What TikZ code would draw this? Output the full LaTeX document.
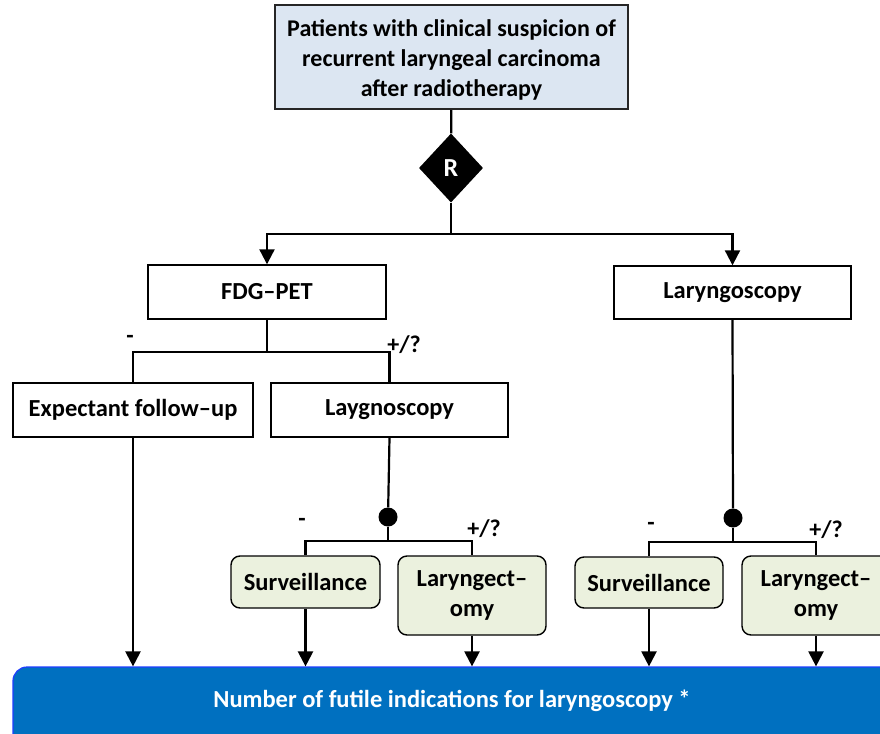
\documentclass[tikz,border=0pt]{standalone}
\usepackage{fontspec}
\setmainfont{Carlito}
\usetikzlibrary{shapes.geometric,arrows.meta}
\definecolor{headfill}{HTML}{DCE6F2}
\definecolor{greenfill}{HTML}{EBF1DE}
\definecolor{resultfill}{HTML}{0070C0}
\definecolor{resultedge}{HTML}{1F3CFF}
\begin{document}
\begin{tikzpicture}[x=1pt,y=-1pt,
  font=\bfseries\fontsize{24.5}{30}\selectfont,
  plainbox/.style={draw=black, line width=1.4pt, fill=white, inner sep=0pt, align=center},
  headbox/.style={draw=black!85, line width=2pt, fill=headfill, inner sep=0pt,
    font=\bfseries\fontsize{24}{30}\selectfont},
  choicebox/.style={draw=black, line width=1.4pt, fill=greenfill, rounded corners=9pt, inner sep=0pt, align=center},
  link/.style={line width=2.2pt},
  arr/.style={line width=2.2pt, -{Triangle[width=15pt,length=15pt]}},
  branchdot/.style={circle, fill=black, minimum size=19pt, inner sep=0pt},
  sign/.style={inner sep=0pt, font=\bfseries\fontsize{24}{26}\selectfont}
]
\clip (0,0) rectangle (880,733);
\fill[white] (0,0) rectangle (880,733);

% entry population and randomisation
\node[headbox, minimum width=353pt, minimum height=104pt] (top) at (451.5,57)
  {\raisebox{-4pt}[\height][\depth]{\begin{tabular}{@{}c@{}}Patients with clinical suspicion of\\recurrent laryngeal carcinoma\\after radiotherapy\end{tabular}}};
\node[diamond, fill=black, text=white, inner sep=0pt, minimum width=64pt, minimum height=69pt,
  font=\bfseries\fontsize{26}{28}\selectfont] (rand) at (451,168) {R};
\coordinate (split) at (451,234);

% first-line investigations
\node[plainbox, minimum width=238pt, minimum height=54pt] (fdg) at (267,292) {FDG–PET};
\node[plainbox, minimum width=237pt, minimum height=53pt] (lar) at (732.5,292.5) {Laryngoscopy};

% PET branch
\coordinate (fdgsplit) at (267,352);
\node[plainbox, minimum width=240pt, minimum height=54pt] (wait) at (133,410) {Expectant follow–up};
\node[plainbox, minimum width=237pt, minimum height=54pt] (lay) at (389.5,410) {Laygnoscopy};
\node[sign] (s1m) at (130,339) {-};
\node[sign] (s1p) at (404,345) {+/?};

% outcomes after laryngoscopy in the PET arm
\node[branchdot] (dotA) at (388,517) {};
\coordinate (dotAsplit) at (388,541);
\node[choicebox, minimum width=149pt, minimum height=52pt] (survA) at (305.5,582) {Surveillance};
\node[choicebox, minimum width=148pt, minimum height=79pt] (ectA) at (472,595.5) {Laryngect–\\omy};
\node[sign] (s2m) at (302,522) {-};
\node[sign] (s2p) at (484,529) {+/?};

% outcomes in the laryngoscopy arm
\node[branchdot] (dotB) at (733,518) {};
\coordinate (dotBsplit) at (733,542);
\node[choicebox, minimum width=148pt, minimum height=51pt] (survB) at (649,582.5) {Surveillance};
\node[choicebox, minimum width=148pt, minimum height=79pt] (ectB) at (816,595.5) {Laryngect–\\omy};
\node[sign] (s3m) at (651,526) {-};
\node[sign] (s3p) at (826,530) {+/?};

% common end point
\node[draw=resultedge, line width=1.2pt, fill=resultfill, rounded corners=14pt,
  minimum width=900pt, minimum height=100pt, inner sep=0pt] (result) at (463,717) {};
\node[text=white, inner sep=0pt] (resultlabel) at (452,701) {Number of futile indications for laryngoscopy *};

% connectors
\draw[link] (top) -- (rand);
\draw[link] (rand) -- (split);
\draw[arr] (split) -| (fdg.north);
\draw[arr] (split) -| (lar.north);

\draw[link] (fdg) -- (fdgsplit);
\draw[link] (fdgsplit) -| (wait.north);
\draw[link] (fdgsplit) -| (lay.north);

\draw[link] (lay.south) -- (dotA);
\draw[link] (dotA) -- (dotAsplit);
\draw[link] (dotAsplit) -| (survA.north);
\draw[link] (dotAsplit) -| (ectA.north);

\draw[link] (lar.south) -- (dotB);
\draw[link] (dotB) -- (dotBsplit);
\draw[link] (dotBsplit) -| (survB.north);
\draw[link] (dotBsplit) -| (ectB.north);

\draw[arr] (wait.south) -- (wait.south |- result.north);
\draw[arr] (survA.south) -- (survA.south |- result.north);
\draw[arr] (ectA.south) -- (ectA.south |- result.north);
\draw[arr] (survB.south) -- (survB.south |- result.north);
\draw[arr] (ectB.south) -- (ectB.south |- result.north);
\end{tikzpicture}
\end{document}
